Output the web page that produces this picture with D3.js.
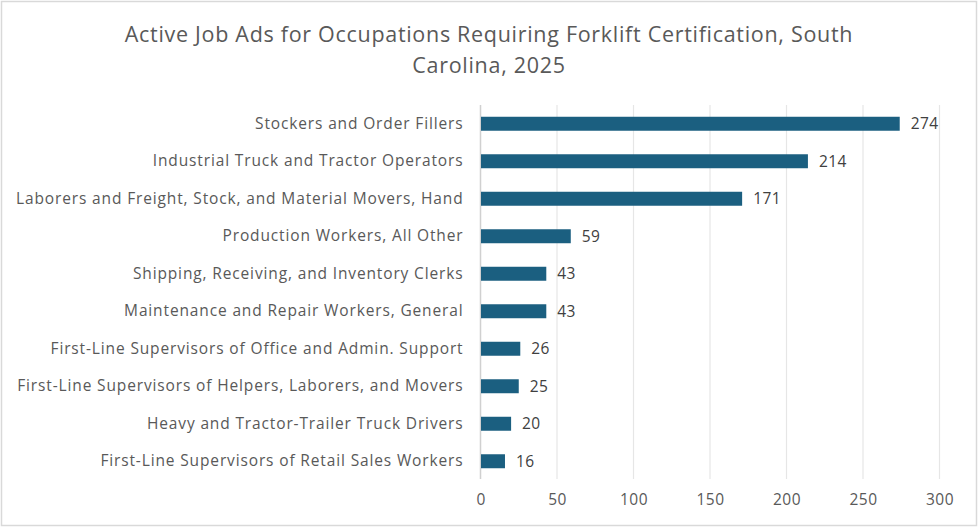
<!DOCTYPE html>
<html><head><meta charset="utf-8">
<script src="https://cdn.jsdelivr.net/npm/d3@7"></script>
<style>body{margin:0;background:#fff}svg{display:block}text{font-family:"Open Sans",sans-serif}</style>
</head><body><svg id="c" width="979" height="529"></svg>
<script>
const categories = [
  "Stockers and Order Fillers",
  "Industrial Truck and Tractor Operators",
  "Laborers and Freight, Stock, and Material Movers, Hand",
  "Production Workers, All Other",
  "Shipping, Receiving, and Inventory Clerks",
  "Maintenance and Repair Workers, General",
  "First-Line Supervisors of Office and Admin. Support",
  "First-Line Supervisors of Helpers, Laborers, and Movers",
  "Heavy and Tractor-Trailer Truck Drivers",
  "First-Line Supervisors of Retail Sales Workers"
];
const values = [274, 214, 171, 59, 43, 43, 26, 25, 20, 16];
const xTicks = [0, 50, 100, 150, 200, 250, 300];
const titleLines = ["Active Job Ads for Occupations Requiring Forklift Certification, South", "Carolina, 2025"];

const svg = d3.select("#c");
svg.append("rect").attr("x",1.5).attr("y",1.5).attr("width",975).attr("height",524)
  .attr("fill","#fff").attr("stroke","#d9d9d9").attr("stroke-width",1.5);

const x = d3.scaleLinear().domain([0,300]).range([480.5,939.5]);
const y = d3.scaleBand().domain(categories).range([105,480]).paddingInner(0.627).paddingOuter(0.3135);

const g = svg.append("g");
g.selectAll("line.grid").data(xTicks.slice(1)).join("line")
  .attr("x1",d=>x(d)).attr("x2",d=>x(d)).attr("y1",105).attr("y2",479)
  .attr("stroke","#e6e6e6").attr("stroke-width",1.2);
g.append("line").attr("x1",x(0)).attr("x2",x(0)).attr("y1",105).attr("y2",479)
  .attr("stroke","#d0d0d0").attr("stroke-width",1.5);

const xa = svg.append("g").attr("transform","translate(0,480)")
  .call(d3.axisBottom(x).tickValues(xTicks).tickSize(0).tickPadding(14));
xa.select(".domain").remove();
xa.selectAll("text").attr("fill","#595959").style("font-size","15.5px")
  .style("letter-spacing","0.4px").style("font-family","'Open Sans',sans-serif");

const ya = svg.append("g").attr("transform",`translate(${x(0)},0)`)
  .call(d3.axisLeft(y).tickSize(0).tickPadding(17));
ya.select(".domain").remove();
ya.selectAll("text").attr("fill","#595959").style("font-size","15.5px")
  .style("letter-spacing","0.86px").style("font-family","'Open Sans',sans-serif");

g.selectAll("rect.bar").data(values).join("rect")
  .attr("x",x(0)+0.5).attr("y",(d,i)=>y(categories[i]))
  .attr("width",d=>x(d)-x(0)-0.5).attr("height",y.bandwidth())
  .attr("fill","#1b5f80");
g.selectAll("text.val").data(values).join("text")
  .attr("x",d=>x(d)+11).attr("y",(d,i)=>y(categories[i])+y.bandwidth()/2)
  .attr("dy","0.36em").attr("fill","#404040").style("font-size","15.5px")
  .style("letter-spacing","0.4px").text(d=>d);

svg.append("text").attr("x",489).attr("y",42).attr("text-anchor","middle")
  .attr("fill","#595959").style("font-size","21.5px").style("letter-spacing","0.7px")
  .selectAll("tspan").data(titleLines).join("tspan")
  .attr("x",489).attr("dy",(d,i)=>i?31:0).text(d=>d);
</script></body></html>
